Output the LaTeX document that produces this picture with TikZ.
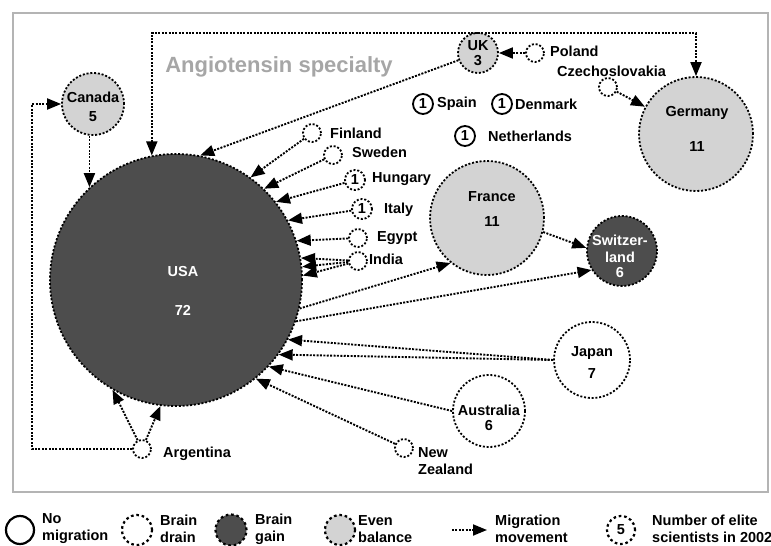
\documentclass[tikz,border=0pt]{standalone}
\usepackage{fontspec}
\setmainfont{Liberation Sans}
\usetikzlibrary{arrows.meta}
\definecolor{gaincol}{HTML}{4D4D4D}
\definecolor{evencol}{HTML}{D3D3D3}
\definecolor{titlecol}{HTML}{A6A6A6}
\definecolor{framecol}{HTML}{B4B4B4}
\tikzset{
  dotline/.style={dash pattern=on 2pt off 1.4pt, line width=1.9pt},
  ringline/.style={dash pattern=on 2pt off 1.8pt, line width=1.8pt},
  legdash/.style={dash pattern=on 2.6pt off 2.8pt, line width=2.2pt},
  drain/.style={circle, draw, ringline, fill=white, inner sep=0pt},
  gain/.style={drain, fill=gaincol},
  even/.style={drain, fill=evencol},
  nomig/.style={circle, draw, line width=1.8pt, fill=white, inner sep=0pt},
  lbl/.style={font=\fontsize{14.5}{17}\selectfont\bfseries, inner sep=0pt},
  tip/.style={-{Triangle[length=14pt,width=11pt]}},
  mig/.style={dotline, tip},
}
\begin{document}
\begin{tikzpicture}[x=1pt,y=-1pt]
\useasboundingbox (0,0) rectangle (771,546);
\draw[framecol, line width=2pt] (13,13) rectangle (768,492);

% title
\node[lbl, titlecol, font=\fontsize{22}{24}\selectfont\bfseries] (title) at (279,67) {Angiotensin specialty};

% big circles
\node[gain, minimum size=252pt] (usa) at (176,280) {};
\node[lbl, white] (usal) at (183,272) {USA};
\node[lbl, white] (usan) at (183,310) {72};

\node[even, minimum size=62pt] (canada) at (93,104) {};
\node[lbl] (canadal) at (93,97) {Canada};
\node[lbl] (canadan) at (93,117) {5};

\node[even, minimum size=114pt] (germany) at (696,134) {};
\node[lbl] (germanyl) at (697,113) {Germany};
\node[lbl] (germanyn) at (697,147) {11};

\node[even, minimum size=40pt] (uk) at (478,53) {};
\node[lbl] (ukl) at (478,46) {UK};
\node[lbl] (ukn) at (478,61) {3};

\node[even, minimum size=114pt] (france) at (487,218) {};
\node[lbl] (francel) at (492,197) {France};
\node[lbl] (francen) at (492,222) {11};

\node[gain, minimum size=70pt] (swiss) at (622,251) {};
\node[lbl, white] (swissl1) at (620,240) {Switzer-};
\node[lbl, white] (swissl2) at (620,257) {land};
\node[lbl, white] (swissn) at (620,273) {6};

\node[drain, minimum size=76pt] (japan) at (592,360) {};
\node[lbl] (japanl) at (592,353) {Japan};
\node[lbl] (japann) at (592,374) {7};

\node[drain, minimum size=72pt] (aus) at (489,411) {};
\node[lbl] (ausl) at (489,410) {Australia};
\node[lbl] (ausn) at (489,426) {6};

% small drain circles
\node[drain, minimum size=18pt] (fin) at (312,133) {};
\node[lbl, anchor=west] (finl) at (330,133) {Finland};
\node[drain, minimum size=18pt] (swe) at (333,155) {};
\node[lbl, anchor=west] (swel) at (352,152) {Sweden};
\node[drain, minimum size=20pt, lbl] (hun) at (355,180) {1};
\node[lbl, anchor=west] (hunl) at (372,179) {Hungary};
\node[drain, minimum size=20pt, lbl] (ita) at (362,209) {1};
\node[lbl, anchor=west] (ital) at (384,210) {Italy};
\node[drain, minimum size=18pt] (egy) at (358,238) {};
\node[lbl, anchor=west] (egyl) at (377,238) {Egypt};
\node[drain, minimum size=18pt] (ind) at (358,261) {};
\node[lbl, anchor=west] (indl) at (369,259) {India};
\node[drain, minimum size=18pt] (pol) at (535,53) {};
\node[lbl, anchor=west] (poll) at (550,51) {Poland};
\node[drain, minimum size=18pt] (cze) at (608,87) {};
\node[lbl, anchor=west] (czel) at (557,71) {Czechoslovakia};
\node[drain, minimum size=18pt] (arg) at (142,449) {};
\node[lbl, anchor=west] (argl) at (163,454) {Argentina};
\node[drain, minimum size=18pt] (nz) at (404,448) {};
\node[lbl, anchor=north west, align=left] (nzl) at (418,447) {New\\Zealand};

% no migration
\node[nomig, minimum size=20pt, lbl] (spa) at (423,104) {1};
\node[lbl, anchor=west] (spal) at (437,104) {Spain};
\node[nomig, minimum size=20pt, lbl] (den) at (502,104) {1};
\node[lbl, anchor=west] (denl) at (515,104) {Denmark};
\node[nomig, minimum size=20pt, lbl] (net) at (465,136) {1};
\node[lbl, anchor=west] (netl) at (488,136) {Netherlands};

% migration arrows
\draw[mig] (uk) -- (usa.79);
\draw[mig] (pol) -- (uk);
\draw[mig] (cze) -- (germany);
\draw[mig] (fin) -- (usa.54);
\draw[mig] (swe) -- (usa.46);
\draw[mig] (hun) -- (usa.38);
\draw[mig] (ita) -- (usa.28.5);
\draw[mig] (egy) -- (usa.18.7);
\draw[mig] (ind) -- (usa.10.7);
\draw[mig] (ind) -- (usa.6.5);
\draw[mig] (ind) -- (usa.2.3);
\draw[mig] (usa.-13.7) -- (france.231);
\draw[mig] (usa.-19.4) -- (swiss.212);
\draw[mig] (france.-14) -- (swiss.175);
\draw[mig] (japan.west) -- (usa.-28);
\draw[mig] (japan.west) -- (usa.-36);
\draw[mig] (aus.west) -- (usa.-43.7);
\draw[mig] (nz) -- (usa.-51.5);
\draw[mig] (arg) -- (usa.-97);
\draw[mig] (arg) -- (usa.-120.6);
\coordinate (argc) at (32,449);
\draw[mig] (arg.west) -- (argc) |- (canada.west);
\draw[mig] (usa.133 |- canada.south) -- (usa.133);
\coordinate (toprow) at (0,33);
\draw[dotline, {Triangle[length=14pt,width=11pt]}-{Triangle[length=14pt,width=11pt]}]
  (usa.101) -- (usa.101 |- toprow) -| (germany.north);

% legend
\node[nomig, line width=2.2pt, minimum size=28pt] (lg1) at (20,530) {};
\node[lbl, anchor=west, align=left] (lg1t) at (42,529) {No\\migration};
\node[drain, legdash, minimum size=30pt] (lg2) at (137,530) {};
\node[lbl, anchor=west, align=left] (lg2t) at (160,529) {Brain\\drain};
\node[drain, legdash, fill=gaincol, minimum size=31pt] (lg3) at (231,530) {};
\node[lbl, anchor=west, align=left] (lg3t) at (255,529) {Brain\\gain};
\node[drain, legdash, fill=evencol, minimum size=30pt] (lg4) at (340,530) {};
\node[lbl, anchor=west, align=left] (lg4t) at (358,529) {Even\\balance};
\coordinate (lgA) at (452,530);
\coordinate (lgB) at (487,530);
\draw[mig] (lgA) -- (lgB);
\node[lbl, anchor=west, align=left] (lg5t) at (495,529) {Migration\\movement};
\node[drain, legdash, minimum size=28pt, lbl] (lg6) at (621,530) {5};
\node[lbl, anchor=west, align=left] (lg6t) at (652,529) {Number of elite\\scientists in 2002};
\end{tikzpicture}
\end{document}
